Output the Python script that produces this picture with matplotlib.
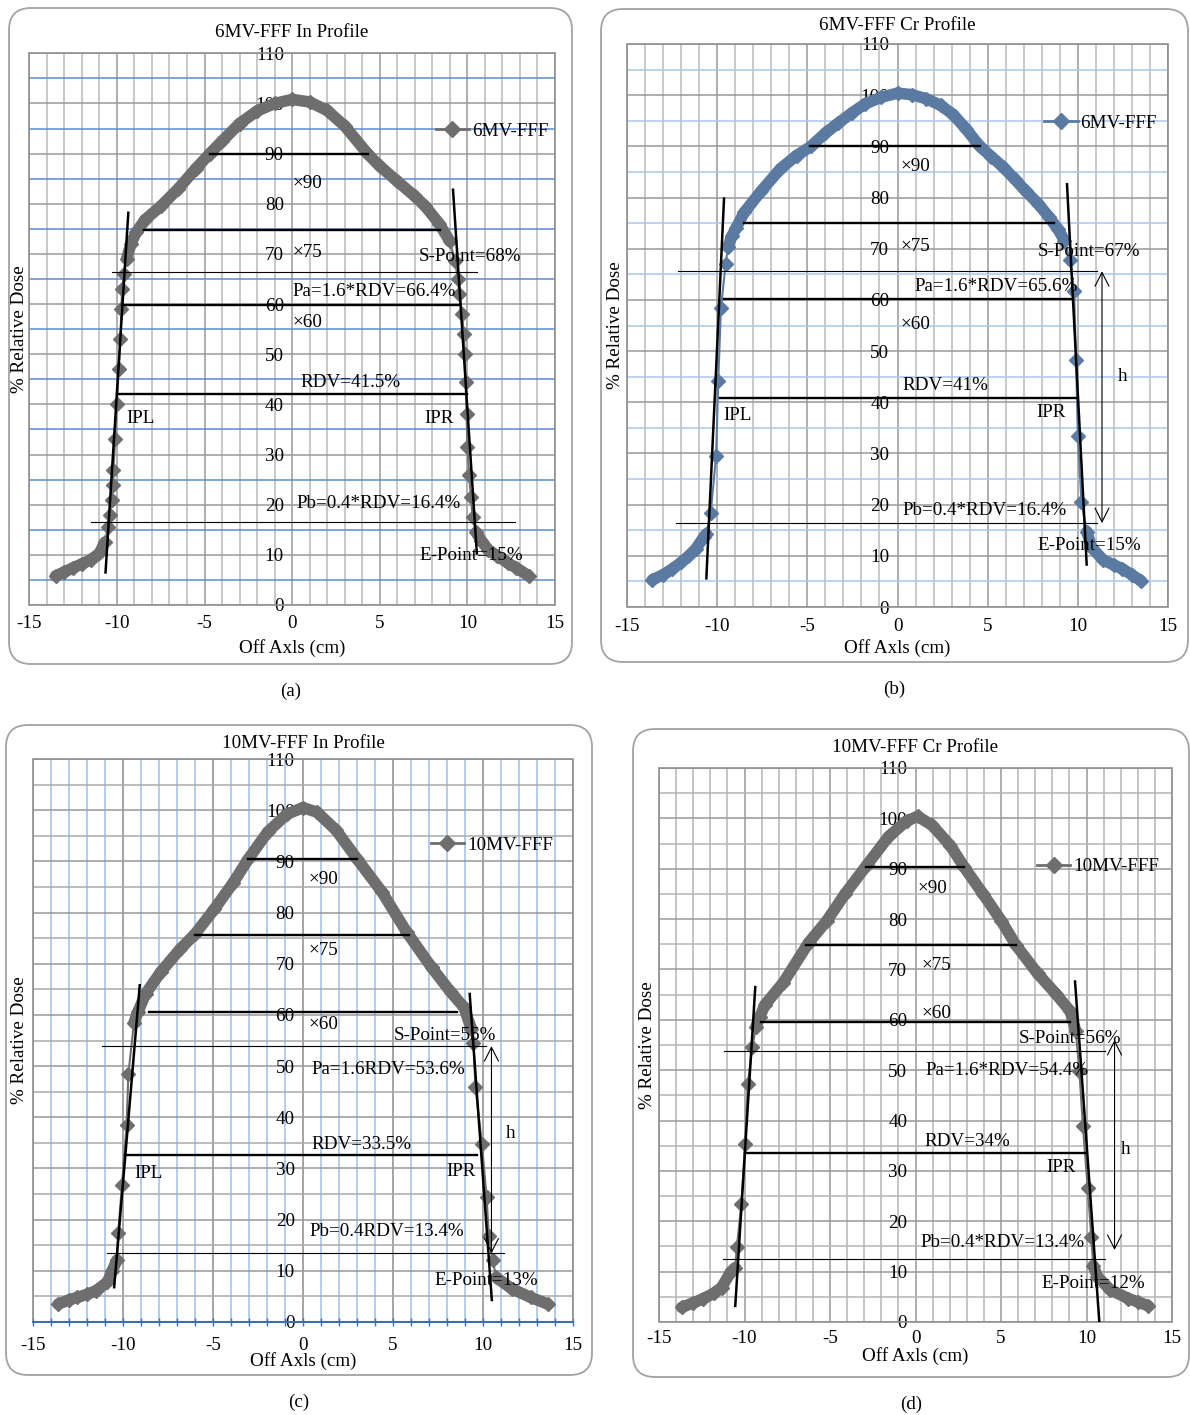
import matplotlib
matplotlib.use("Agg")
import numpy as np
import matplotlib.pyplot as plt
from matplotlib.patches import FancyBboxPatch, Rectangle
from matplotlib.lines import Line2D
from matplotlib.collections import LineCollection

plt.rcParams['font.family'] = ['Liberation Serif', 'DejaVu Serif']
plt.rcParams['font.size'] = 13.7
plt.rcParams['axes.unicode_minus'] = False

W, H = 1190, 1415
FS = 13.7

# ---------------- (a) 6MV-FFF In Profile ----------------
a_x = [-13.5, -13.0, -12.5, -12.0, -11.5, -11.0, -10.7, -10.5, -10.4, -10.3, -10.25, -10.2, -10.1, -10.0,
       -9.9, -9.8, -9.75, -9.7, -9.6, -9.45, -9.2, -8.9, -8.4, -7.5, -6.5, -5.5, -4.7, -4.0, -3.0, -2.0,
       -1.0, 0.0, 1.0, 2.0, 3.0, 4.3, 5.0, 6.0, 7.0, 7.6, 8.4, 9.0, 9.3, 9.45, 9.55, 9.7, 9.8, 9.85, 9.9,
       9.95, 10.0, 10.1, 10.2, 10.3, 10.5, 10.8, 11.2, 11.7, 12.3, 12.8, 13.5]
a_y = [5.8, 6.6, 7.4, 8.2, 9.0, 10.3, 12.5, 15.5, 18.0, 21.0, 24.0, 27.0, 33.0, 40.0,
       47.0, 53.0, 59.0, 63.0, 66.0, 69.0, 72.0, 74.3, 76.8, 79.5, 83.0, 87.0, 90.0, 92.5, 96.0, 98.5,
       100.0, 100.8, 100.3, 98.6, 95.5, 90.0, 87.5, 84.5, 81.5, 79.5, 76.0, 72.5, 68.5, 65.0, 62.0, 58.0,
       54.0, 50.0, 44.5, 38.0, 31.5, 26.0, 21.5, 17.5, 14.5, 12.8, 11.0, 9.8, 8.4, 7.4, 5.8]
a_bar_y = [90.0, 74.8, 59.9, 42.0]
a_bar_x0 = [-4.7, -8.45, -9.7, -10.0]
a_bar_x1 = [4.3, 8.45, 9.6, 9.95]
a_thin_y = [66.3, 16.5]
a_thin_x0 = [-10.3, -11.46]
a_thin_x1 = [10.55, 12.7]
a_tan_lx, a_tan_ly = [-10.65, -9.35], [6.5, 78.2]
a_tan_rx, a_tan_ry = [9.18, 10.54], [82.8, 10.3]
a_labels = [("×90", 0.04, 84.1), ("×75", 0.04, 70.2), ("×60", 0.04, 56.4),
            ("S-Point=68%", 7.25, 69.4), ("Pa=1.6*RDV=66.4%", 0.04, 62.6),
            ("RDV=41.5%", 0.47, 44.3), ("IPL", -9.46, 37.1), ("IPR", 7.57, 37.1),
            ("Pb=0.4*RDV=16.4%", 0.26, 20.2), ("E-Point=15%", 7.25, 9.9)]

# ---------------- (b) 6MV-FFF Cr Profile ----------------
b_x = [-13.6, -13.0, -12.5, -12.0, -11.6, -11.2, -10.75, -10.6, -10.36, -10.06,
       -9.94, -9.79, -9.53, -9.4, -9.2, -8.94, -8.5, -7.55, -6.5, -5.6,
       -4.8, -4.0, -3.3, -2.5, -1.8, -0.9, 0.0, 0.8, 1.6, 2.4,
       3.1, 3.8, 4.57, 5.2, 5.85, 6.5, 7.1, 7.8, 8.4, 8.9,
       9.26, 9.57, 9.79, 9.9, 10.0, 10.2, 10.5, 10.75, 11.4, 12.0,
       12.45, 13.0, 13.5]
b_y = [5.3, 6.3, 7.4, 8.7, 9.9, 11.3, 13.6, 14.3, 18.3, 29.5,
       44.1, 58.4, 67.1, 70.3, 72.4, 74.1, 77.1, 81.3, 85.6, 88.2,
       90.0, 92.6, 94.5, 96.6, 98.3, 99.6, 100.4, 100.1, 99.3, 98.0,
       96.2, 93.4, 90.0, 88.0, 86.0, 83.6, 81.3, 78.8, 76.2, 73.8,
       71.6, 67.7, 61.8, 48.2, 33.4, 20.5, 14.7, 11.7, 9.2, 8.2,
       7.5, 6.3, 5.1]
b_bar_y = [90.0, 75.0, 60.1, 40.9]
b_bar_x0 = [-4.83, -8.5, -9.64, -9.83]
b_bar_x1 = [4.57, 8.66, 9.64, 9.94]
b_thin_y = [65.6, 16.4]
b_thin_x0 = [-12.17, -12.28]
b_thin_x1 = [11.06, 11.06]
b_tan_lx, b_tan_ly = [-10.6, -9.62], [5.6, 79.8]
b_tan_rx, b_tan_ry = [9.4, 10.49], [82.6, 8.3]
b_arrow = (11.34, 16.4, 65.6)
b_labels = [("×90", 0.15, 86.0), ("×75", 0.15, 70.5), ("×60", 0.15, 55.2),
            ("S-Point=67%", 7.8, 69.4), ("Pa=1.6*RDV=65.6%", 0.96, 62.6),
            ("RDV=41%", 0.28, 43.3), ("IPL", -9.64, 37.4), ("IPR", 7.72, 38.0),
            ("Pb=0.4*RDV=16.4%", 0.28, 18.8), ("E-Point=15%", 7.77, 12.1), ("h", 12.23, 45.0)]

# ---------------- (c) 10MV-FFF In Profile ----------------
c_x = [-13.6, -13.0, -12.55, -12.0, -11.5, -10.87, -10.6, -10.34, -10.27, -10.06,
       -9.8, -9.7, -9.39, -9.17, -8.75, -7.9, -6.84, -6.0, -4.94, -3.88,
       -3.03, -1.97, -0.91, 0.0, 0.78, 1.84, 3.0, 4.39, 5.76, 7.14,
       8.2, 8.94, 9.36, 9.47, 9.58, 9.94, 10.2, 10.32, 10.53, 10.74,
       11.6, 12.65, 13.6]
c_y = [3.5, 4.3, 4.8, 5.4, 6.1, 7.8, 10.0, 12.1, 17.3, 26.7,
       38.5, 48.5, 58.5, 60.6, 64.1, 68.4, 72.8, 75.8, 80.6, 85.8,
       90.5, 95.7, 99.2, 100.5, 99.6, 96.1, 90.5, 84.0, 76.2, 69.3,
       64.5, 61.5, 57.2, 54.6, 45.9, 34.8, 24.4, 16.9, 12.1, 8.7,
       6.5, 4.8, 3.5]
c_bar_y = [90.5, 75.6, 60.5, 32.7]
c_bar_x0 = [-3.03, -6.0, -8.58, -9.87]
c_bar_x1 = [3.0, 5.87, 8.56, 9.68]
c_thin_y = [53.9, 13.4]
c_thin_x0 = [-11.19, -10.87]
c_thin_x1 = [10.15, 11.17]
c_tan_lx, c_tan_ly = [-10.49, -9.07], [6.8, 65.8]
c_tan_rx, c_tan_ry = [9.26, 10.49], [64.1, 4.3]
c_arrow = (10.47, 13.4, 53.9)
c_labels = [("×90", 0.32, 86.4), ("×75", 0.32, 72.5), ("×60", 0.32, 58.2),
            ("S-Point=55%", 5.02, 55.9), ("Pa=1.6RDV=53.6%", 0.47, 49.4),
            ("RDV=33.5%", 0.47, 34.6), ("IPL", -9.39, 29.0), ("IPR", 7.94, 29.4),
            ("Pb=0.4RDV=13.4%", 0.36, 17.6), ("E-Point=13%", 7.31, 8.1), ("h", 11.27, 36.8)]

# ---------------- (d) 10MV-FFF Cr Profile ----------------
d_x = [-13.68, -13.0, -12.4, -11.8, -11.34, -10.81, -10.54, -10.45, -10.18, -9.96,
       -9.81, -9.54, -9.33, -9.11, -8.8, -7.73, -6.25, -5.18, -4.12, -2.85,
       -1.57, -0.51, 0.13, 0.98, 2.04, 2.85, 3.95, 5.01, 5.86, 7.14,
       8.2, 9.05, 9.37, 9.58, 9.79, 10.07, 10.28, 10.39, 10.64, 11.39,
       12.45, 13.0, 13.62]
d_y = [2.9, 3.8, 4.65, 5.7, 6.85, 9.9, 10.8, 14.8, 23.5, 35.4,
       47.2, 54.7, 58.6, 60.6, 63.0, 67.4, 75.3, 79.7, 85.0, 90.7,
       96.4, 99.5, 100.4, 98.6, 94.6, 90.3, 85.0, 79.7, 74.9, 69.2,
       65.2, 61.7, 57.8, 49.9, 38.9, 26.6, 16.9, 11.2, 9.0, 6.4,
       4.65, 4.0, 3.2]
d_bar_y = [90.3, 74.9, 59.5, 33.6]
d_bar_x0 = [-2.91, -6.39, -9.05, -10.0]
d_bar_x1 = [2.85, 5.86, 9.05, 9.9]
d_thin_y = [53.8, 12.55]
d_thin_x0 = [-11.17, -11.24]
d_thin_x1 = [11.11, 11.11]
d_tan_lx, d_tan_ly = [-10.54, -9.37], [3.2, 66.5]
d_tan_rx, d_tan_ry = [9.33, 10.75], [67.6, 0.0]
d_arrow = (11.64, 14.3, 56.0)
d_labels = [("×90", 0.13, 86.0), ("×75", 0.38, 70.8), ("×60", 0.38, 61.3),
            ("S-Point=56%", 6.03, 56.2), ("Pa=1.6*RDV=54.4%", 0.59, 49.9),
            ("RDV=34%", 0.55, 35.8), ("IPR", 7.67, 30.7),
            ("Pb=0.4*RDV=13.4%", 0.3, 15.8), ("E-Point=12%", 7.35, 7.7), ("h", 12.02, 34.2)]

x_major = [-15, -10, -5, 0, 5, 10, 15]
x_minor = [v for v in range(-15, 16) if v % 5]
y_major = list(range(0, 111, 10))
y_minor = list(range(5, 110, 10))

GRAY = '#6e6e6e'
STEEL = '#5a7aa2'

fig = plt.figure(figsize=(W / 100, H / 100), dpi=100)


def px_rect(l, t, r, b):
    return [l / W, 1 - b / H, (r - l) / W, (b - t) / H]


def panel(plot, box, title, name, color, xs, ys, bar_y, bar_x0, bar_x1, thin_y, thin_x0, thin_x1,
          tan_l, tan_r, labels, leg_xy, arrow, grid_c, offs, letter):
    l, t, r, b = plot
    w, h = r - l, b - t
    # rounded panel frame
    bl, bt, br, bb = box
    fig.add_artist(FancyBboxPatch((bl / 100, (H - bb) / 100), (br - bl) / 100, (bb - bt) / 100,
                                  boxstyle='round,pad=0,rounding_size=0.22',
                                  transform=fig.dpi_scale_trans, fill=False,
                                  ec='#a3a3a3', lw=1.3))
    ax = fig.add_axes(px_rect(l, t, r, b))
    ax.set_xlim(-15, 15)
    ax.set_ylim(0, 110)
    ax.set_xticks(x_major)
    ax.set_xticks(x_minor, minor=True)
    ax.set_yticks(y_major)
    ax.set_yticks(y_minor, minor=True)
    xmaj, xmin, ymaj, ymin = grid_c
    ax.grid(which='major', axis='x', color=xmaj, lw=1.1)
    ax.grid(which='minor', axis='x', color=xmin, lw=1.1)
    ax.grid(which='major', axis='y', color=ymaj, lw=1.1)
    ax.grid(which='minor', axis='y', color=ymin, lw=1.1)
    ax.set_axisbelow(True)
    for s in ax.spines.values():
        s.set_visible(False)
    ax.spines['left'].set_position(('data', 0))
    ax.add_patch(Rectangle((0, 0), 1, 1, transform=ax.transAxes, fill=False,
                           ec='#8f8f8f', lw=1.2, zorder=2.4, clip_on=False))
    ax.tick_params(axis='y', which='both', length=0, pad=6, labelsize=FS)
    ax.tick_params(axis='x', which='both', length=0, pad=offs[3], labelsize=FS)
    if letter == '(c)':
        ax.spines['bottom'].set_visible(True)
        ax.spines['bottom'].set_color('#3d6fb0')
        ax.spines['bottom'].set_linewidth(1.5)
        ax.tick_params(axis='x', which='both', direction='inout', length=6,
                       color='#3d6fb0', width=1.0)

    # profile curve: dense shoulders/tails form a thick band, steep penumbra shows single diamonds
    xa, ya = np.asarray(xs), np.asarray(ys)
    slope = np.abs(np.diff(ya) / np.diff(xa))
    segs = [[(xa[i], ya[i]), (xa[i + 1], ya[i + 1])] for i in range(len(xa) - 1) if slope[i] < 12.5]
    ax.add_collection(LineCollection(segs, colors=color, linewidths=8.3, capstyle='round',
                                     joinstyle='round', zorder=3))
    ax.plot(xs, ys, color=color, lw=1.5, marker='D', ms=7.2, mec=color, mfc=color, zorder=3)
    # level lines
    for yy, x0, x1 in zip(bar_y, bar_x0, bar_x1):
        ax.plot([x0, x1], [yy, yy], color='black', lw=1.7, zorder=4)
    for yy, x0, x1 in zip(thin_y, thin_x0, thin_x1):
        ax.plot([x0, x1], [yy, yy], color='black', lw=0.8, zorder=4)
    ax.plot(tan_l[0], tan_l[1], color='black', lw=1.8, zorder=4)
    ax.plot(tan_r[0], tan_r[1], color='black', lw=1.8, zorder=4)
    if arrow is not None:
        ax.annotate('', xy=(arrow[0], arrow[2]), xytext=(arrow[0], arrow[1]),
                    arrowprops=dict(arrowstyle='<->,head_length=0.55,head_width=0.28',
                                    color='black', lw=0.8, mutation_scale=18,
                                    shrinkA=0, shrinkB=0), zorder=4)
    for txt, tx, ty in labels:
        ax.text(tx, ty, txt, ha='left', va='center', fontsize=FS, zorder=5)

    handle = Line2D([], [], color=color, lw=2, marker='D', ms=8)
    ax.legend([handle], [name], loc='center left',
              bbox_to_anchor=((leg_xy[0] + 15) / 30, leg_xy[1] / 110),
              frameon=False, handlelength=1.75, handletextpad=0.15, borderpad=0,
              borderaxespad=0, numpoints=1, fontsize=FS)

    ax.text(0.5, 1 + offs[0] / h, title, transform=ax.transAxes, ha='center', va='center', fontsize=FS)
    ax.text(0.5, -offs[1] / h, 'Off Axls (cm)', transform=ax.transAxes, ha='center', va='center',
            fontsize=FS)
    ax.text(-offs[2] / w, 0.5, '% Relative Dose', transform=ax.transAxes, ha='center', va='center',
            rotation=90, fontsize=FS)
    fig.text((bl + br) / 2 / W, 1 - (bb + 27) / H, letter, ha='center', va='center', fontsize=FS)
    return ax


panel((29.3, 53.3, 555, 605), (9, 8, 572, 664), '6MV-FFF In Profile', '6MV-FFF', GRAY,
      a_x, a_y, a_bar_y, a_bar_x0, a_bar_x1, a_thin_y, a_thin_x0, a_thin_x1,
      (a_tan_lx, a_tan_ly), (a_tan_rx, a_tan_ry), a_labels, (8.2, 94.5), None,
      ('#9a9a9a', '#b9b9b9', '#9a9a9a', '#5b8bd0'), (21, 43, 10, 7), '(a)')

panel((627, 44, 1168, 607), (601, 9, 1188, 662), '6MV-FFF Cr Profile', '6MV-FFF', STEEL,
      b_x, b_y, b_bar_y, b_bar_x0, b_bar_x1, b_thin_y, b_thin_x0, b_thin_x1,
      (b_tan_lx, b_tan_ly), (b_tan_rx, b_tan_ry), b_labels, (8.15, 94.5), b_arrow,
      ('#999999', '#bbbbbb', '#999999', '#a9c6ec'), (18, 41, 12, 8), '(b)')

panel((33, 759, 573, 1322), (6, 725, 592, 1375), '10MV-FFF In Profile', '10MV-FFF', GRAY,
      c_x, c_y, c_bar_y, c_bar_x0, c_bar_x1, c_thin_y, c_thin_x0, c_thin_x1,
      (c_tan_lx, c_tan_ly), (c_tan_rx, c_tan_ry), c_labels, (7.1, 93.1), c_arrow,
      ('#8c8c8c', '#9dbfea', '#999999', '#aaaaaa'), (16, 39, 13, 7.5), '(c)')

panel((659, 768, 1172, 1322), (633, 729, 1189, 1377), '10MV-FFF Cr Profile', '10MV-FFF', GRAY,
      d_x, d_y, d_bar_y, d_bar_x0, d_bar_x1, d_thin_y, d_thin_x0, d_thin_x1,
      (d_tan_lx, d_tan_ly), (d_tan_rx, d_tan_ry), d_labels, (7.1, 90.4), d_arrow,
      ('#999999', '#b5b5b5', '#999999', '#b5b5b5'), (20, 34, 12, 6), '(d)')

fig.savefig('out.png', dpi=100)
